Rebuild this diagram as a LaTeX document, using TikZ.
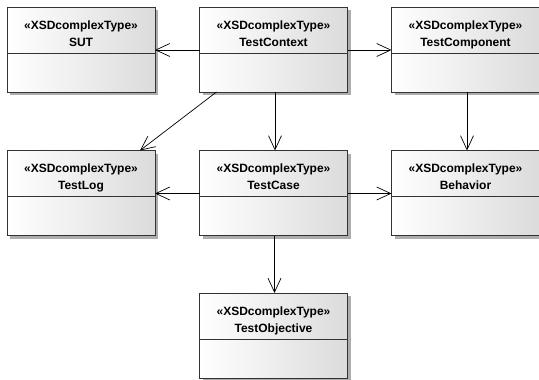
\documentclass[tikz,border=0pt]{standalone}
\usepackage{fontspec}
\setmainfont{Liberation Sans}
\usetikzlibrary{arrows.meta,shadows}
\begin{document}
\begin{tikzpicture}[x=1pt,y=-1pt,
  cls/.style={draw=black!80, line width=0.8pt, left color=white, right color=black!14,
    minimum width=148pt, minimum height=85pt, inner sep=0pt, outer sep=0pt,
    drop shadow={shadow xshift=3pt, shadow yshift=-3pt, fill=black!40, opacity=0.8}},
  txt/.style={font=\fontsize{12}{14}\selectfont\bfseries, text=black, inner sep=0pt, anchor=base},
  sep/.style={draw=black!80, line width=0.8pt},
  arr/.style={draw=black, line width=0.7pt, -{Straight Barb[length=14pt,width=13pt,line width=0.7pt]}}
]
\useasboundingbox (0,0) rectangle (539,380);
% boxes
\node[cls] (sut)   at (81,49.5)  {};
\node[cls] (tctx)  at (273.5,49.5) {};
\node[cls] (tcomp) at (465.5,49.5) {};
\node[cls] (tlog)  at (81,193) {};
\node[cls] (tcase) at (273.5,193) {};
\node[cls] (beh)   at (465.5,193) {};
\node[cls] (tobj)  at (273.5,335.5) {};
% texts and compartments
\foreach \n/\t in {sut/SUT, tctx/TestContext, tcomp/TestComponent, tlog/TestLog, tcase/TestCase, beh/Behavior, tobj/TestObjective}{
  \node[txt] (\n-s) at ([yshift=-22pt]\n.north) {«XSDcomplexType»};
  \node[txt] (\n-n) at ([yshift=-39pt]\n.north) {\t};
  \draw[sep] ([yshift=-46pt]\n.north west) -- ([yshift=-46pt]\n.north east);
}
% connectors
\draw[arr] ([yshift=-43pt]tctx.north west) -- ([yshift=-43pt]sut.north east);
\draw[arr] ([yshift=-43pt]tctx.north east) -- ([yshift=-43pt]tcomp.north west);
\draw[arr] ([xshift=1.5pt]tctx.south) -- ([xshift=1.5pt]tcase.north);
\draw[arr] ([xshift=1.5pt]tcomp.south) -- ([xshift=1.5pt]beh.north);
\draw[arr] ([xshift=17pt]tctx.south west) -- ([xshift=-15pt]tlog.north east);
\draw[arr] ([yshift=-43pt]tcase.north west) -- ([yshift=-43pt]tlog.north east);
\draw[arr] ([yshift=-43pt]tcase.north east) -- ([yshift=-43pt]beh.north west);
\draw[arr] ([xshift=1pt]tcase.south) -- ([xshift=1pt]tobj.north);
\end{tikzpicture}
\end{document}
